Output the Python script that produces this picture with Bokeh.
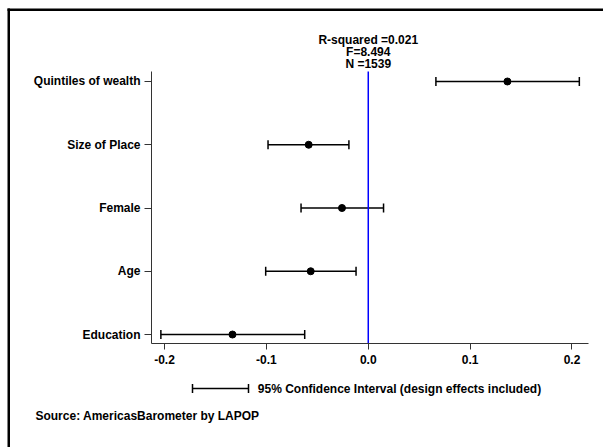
from bokeh.plotting import figure
from bokeh.models import (Range1d, FixedTicker, Whisker, TeeHead, ColumnDataSource, LinearAxis)
from bokeh.embed import file_html
from bokeh.resources import INLINE

# Regression coefficients with 95% confidence intervals
variables = ["Education", "Age", "Female", "Size of Place", "Quintiles of wealth"]
coefficients = [-0.1333, -0.0565, -0.0258, -0.0585, 0.1366]
ci_lower = [-0.2036, -0.1007, -0.0660, -0.0984, 0.0664]
ci_upper = [-0.0624, -0.0120, 0.0150, -0.0190, 0.2072]
x_ticks = [-0.2, -0.1, 0.0, 0.1, 0.2]
x_tick_labels = ["-0.2", "-0.1", "0.0", "0.1", "0.2"]
reference_value = 0.0
stats_lines = ["R-squared =0.021", "F=8.494", "N =1539"]
legend_text = "95% Confidence Interval (design effects included)"
source_text = "Source: AmericasBarometer by LAPOP"

FONT = "Liberation Sans"
FS = "12px"

W, H = 603, 447
# pixel box of the coefficient panel inside the canvas
P_LEFT, P_RIGHT, P_TOP, P_BOTTOM = 151, 588, 71, 343
X0, X1 = -0.2128, 0.2162
Y0, Y1 = 0.858, 5.158

def px_x(px):
    """canvas pixel column -> data x"""
    return X0 + (px - P_LEFT) * (X1 - X0) / (P_RIGHT - P_LEFT)

def px_y(py):
    """canvas pixel row -> data y"""
    return Y0 + (P_BOTTOM - py) * (Y1 - Y0) / (P_BOTTOM - P_TOP)

positions = list(range(1, len(variables) + 1))
src = ColumnDataSource(dict(y=positions, coef=coefficients, lower=ci_lower, upper=ci_upper))

# the frame fills the whole canvas; the axes are pinned to the panel edges
p = figure(width=W, height=H,
           x_range=Range1d(px_x(0), px_x(W)), y_range=Range1d(px_y(H), px_y(0)),
           output_backend="svg", toolbar_location=None,
           min_border_left=0, min_border_right=0, min_border_top=0, min_border_bottom=0)
p.outline_line_color = None
p.grid.visible = False
p.background_fill_color = "white"
p.border_fill_color = "white"

label_style = dict(major_label_text_font=FONT, major_label_text_font_style="bold",
                   major_label_text_font_size=FS, major_label_text_color="black")

for ax in (p.xaxis[0], p.yaxis[0]):
    ax.axis_line_color = "#333333"
    ax.axis_line_width = 1
    ax.major_tick_line_color = "#333333"
    ax.minor_tick_line_color = None
    ax.major_tick_in = 0
    for k, v in label_style.items():
        setattr(ax, k, v)

p.xaxis.fixed_location = Y0
p.xaxis.bounds = (X0, X1)
p.xaxis.ticker = FixedTicker(ticks=x_ticks)
p.xaxis.major_label_overrides = {t: s for t, s in zip(x_ticks, x_tick_labels)}
p.xaxis.major_tick_out = 6
p.xaxis.major_label_standoff = 5

p.yaxis.fixed_location = X0
p.yaxis.bounds = (Y0, Y1)
p.yaxis.ticker = FixedTicker(ticks=positions)
p.yaxis.major_label_overrides = {y: v for y, v in zip(positions, variables)}
p.yaxis.major_tick_out = 7
p.yaxis.major_label_standoff = 4

# reference line at zero, spanning the panel height
p.segment(x0=[reference_value], y0=[Y0], x1=[reference_value], y1=[Y1],
          line_color="#0000ff", line_width=1.5)

# confidence intervals and point estimates
p.add_layout(Whisker(source=src, base="y", lower="lower", upper="upper", dimension="width",
                     line_color="black", line_width=1.5,
                     upper_head=TeeHead(size=9, line_color="black", line_width=1.5),
                     lower_head=TeeHead(size=9, line_color="black", line_width=1.5)))
p.scatter("coef", "y", source=src, size=7, color="black")


def caption(text, x_center, y_center_px):
    """single centred line of text, drawn as a bare pinned axis label"""
    xc = round(x_center, 6)
    cap = LinearAxis(fixed_location=px_y(y_center_px - 7), ticker=FixedTicker(ticks=[xc]),
                     major_label_overrides={xc: text}, axis_line_color=None,
                     major_tick_line_color=None, minor_tick_line_color=None,
                     major_tick_in=0, major_tick_out=0, major_label_standoff=0,
                     **label_style)
    p.add_layout(cap, "below")


# model statistics above the zero line
for i, line in enumerate(stats_lines):
    caption(line, reference_value, 39 + 12 * i)

# legend key for the interval bars: a bar with end caps, then its caption
key_l, key_r, key_y, tee = px_x(192), px_x(248), px_y(388), 4.5
p.segment(x0=[key_l, key_l, key_r], y0=[key_y, px_y(388 - tee), px_y(388 - tee)],
          x1=[key_r, key_l, key_r], y1=[key_y, px_y(388 + tee), px_y(388 + tee)],
          line_color="black", line_width=1.5)
caption(legend_text, px_x(399), 388)

caption(source_text, px_x(147), 415)

# frame rules along the top and left edges, each its own glyph
p.quad(left=[px_x(7)], right=[px_x(W)], top=[px_y(8)], bottom=[px_y(10.5)],
       fill_color="black", line_color=None)
p.quad(left=[px_x(7)], right=[px_x(9.5)], top=[px_y(8)], bottom=[px_y(H)],
       fill_color="black", line_color=None)

open("out.html", "w").write(file_html(p, INLINE))
